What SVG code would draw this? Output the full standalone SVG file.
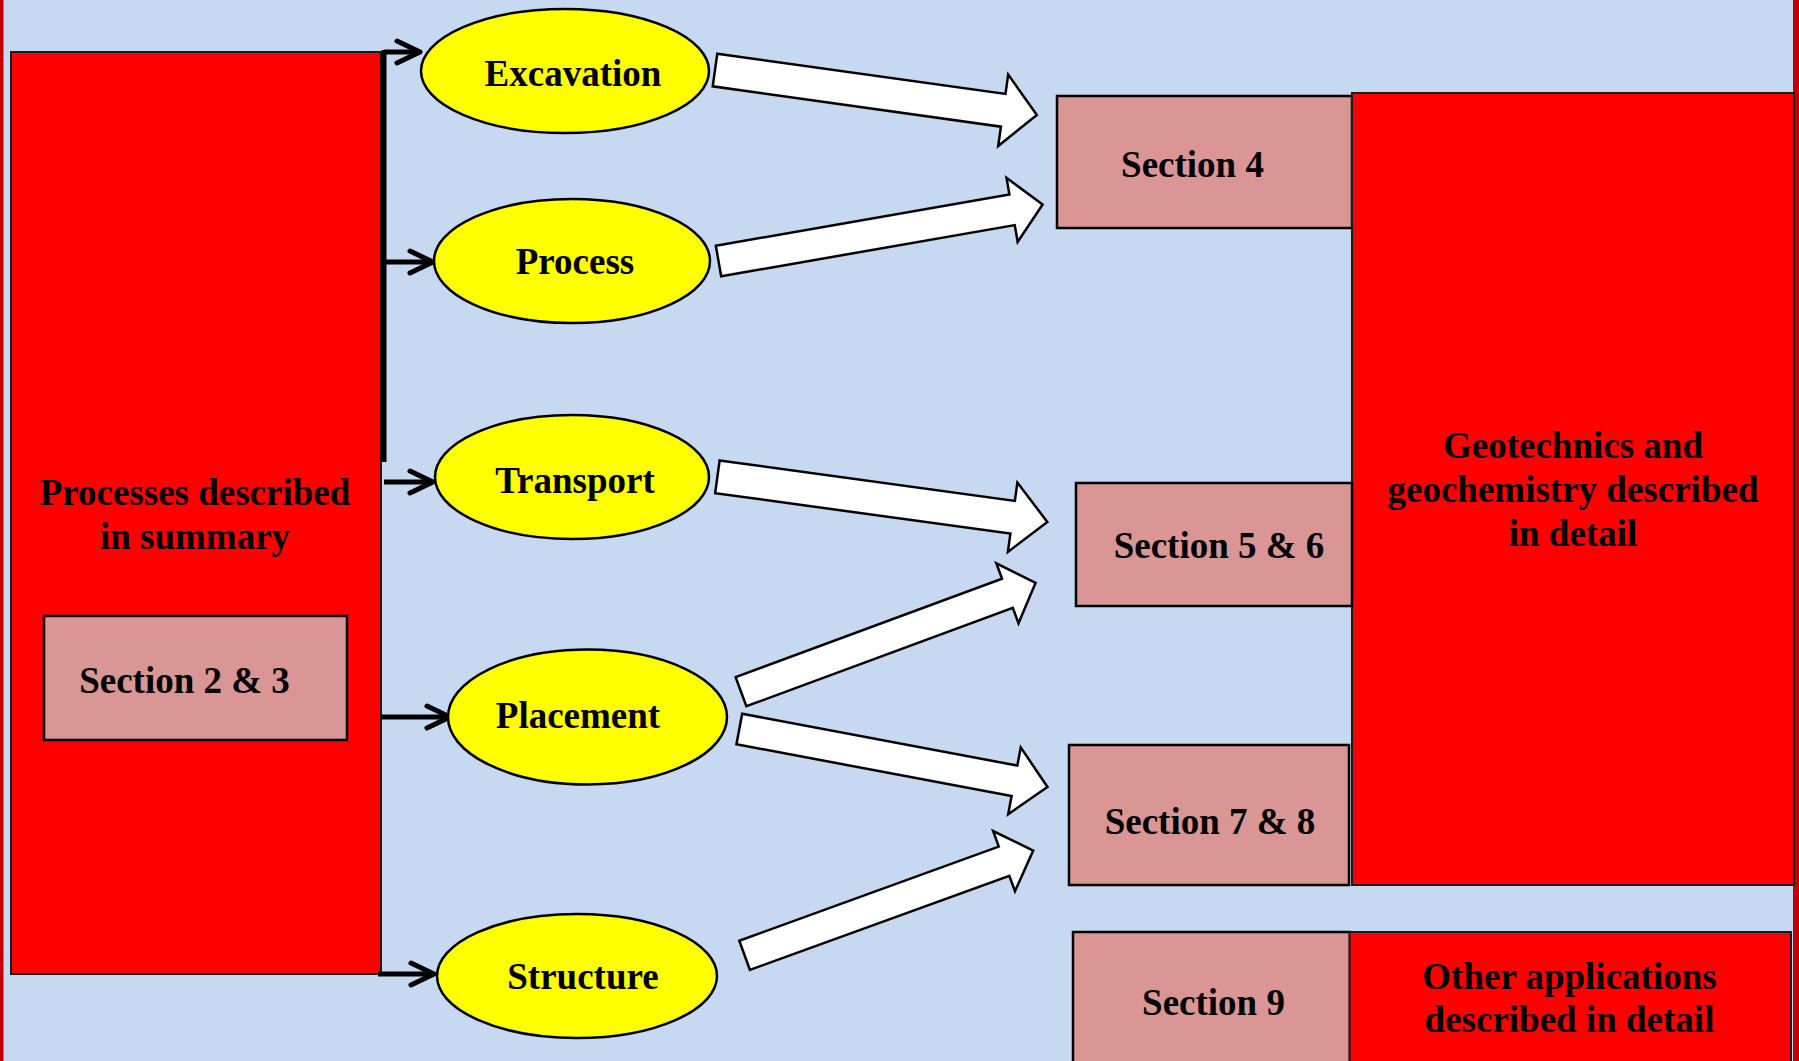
<svg xmlns="http://www.w3.org/2000/svg" width="1799" height="1061" viewBox="0 0 1799 1061">
<defs>
<style>
.bg{fill:#C6D9F1}
.red{fill:#FF0000;stroke:#1a1a1a;stroke-width:2}
.sec{fill:#D99694;stroke:#000;stroke-width:2.5}
.ell{fill:#FFFF00;stroke:#000;stroke-width:2.5}
.blk{fill:#FFFFFF;stroke:#000;stroke-width:2.5;stroke-linejoin:miter}
.con{stroke:#000;stroke-width:5;fill:none}
text{font-family:"Liberation Serif","Times New Roman",serif;font-weight:bold;font-size:37px;fill:#000;text-anchor:middle}
</style>
<marker id="chev" markerUnits="userSpaceOnUse" markerWidth="34" markerHeight="34" viewBox="-30 -17 34 34" refX="0" refY="0" orient="auto" overflow="visible">
<path d="M-23,-11 L0,0 L-23,11" fill="none" stroke="#000" stroke-width="5" stroke-linecap="round" stroke-linejoin="round"/>
</marker>
</defs>
<rect class="bg" x="0" y="0" width="1799" height="1061"/>
<rect x="0" y="0" width="3.5" height="1061" fill="#C00000"/>
<rect x="1793" y="0" width="6" height="1061" fill="#C00000"/>

<g id="summary">
<rect class="red" x="11" y="52" width="370" height="922"/>
<text x="195" y="505">Processes described</text>
<text x="195" y="549">in summary</text>
</g>
<g id="section23">
<rect class="sec" x="44" y="616" width="303" height="124"/>
<text x="184.5" y="693">Section 2 &amp; 3</text>
</g>

<g id="connectors">
<line class="con" x1="384" y1="50" x2="384" y2="462"/>
<line class="con" x1="384" y1="52" x2="420" y2="52" marker-end="url(#chev)"/>
<line class="con" x1="384" y1="262" x2="433" y2="262" marker-end="url(#chev)"/>
<line class="con" x1="384" y1="482" x2="433" y2="482" marker-end="url(#chev)"/>
<line class="con" x1="381" y1="717" x2="450" y2="717" marker-end="url(#chev)"/>
<line class="con" x1="378" y1="974" x2="434" y2="974" marker-end="url(#chev)"/>
<g transform="translate(715,70) rotate(7.96)"><polygon class="blk" points="0,-16.5 291,-16.5 291,-36 325,0 291,36 291,16.5 0,16.5"/></g>
<g transform="translate(718.5,261) rotate(-9.88)"><polygon class="blk" points="0,-15.5 298,-15.5 298,-32.5 329,0 298,32.5 298,15.5 0,15.5"/></g>
<g transform="translate(717.4,476.8) rotate(7.8)"><polygon class="blk" points="0,-16.5 298,-16.5 298,-35 333,0 298,35 298,16.5 0,16.5"/></g>
<g transform="translate(741,691.7) rotate(-20.27)"><polygon class="blk" points="0,-15.5 284,-15.5 284,-32 314,0 284,32 284,15.5 0,15.5"/></g>
<g transform="translate(739.3,729) rotate(10.66)"><polygon class="blk" points="0,-15.5 280,-15.5 280,-34 313.6,0 280,34 280,15.5 0,15.5"/></g>
<g transform="translate(744.6,955.3) rotate(-19.94)"><polygon class="blk" points="0,-15.5 276,-15.5 276,-32 307,0 276,32 276,15.5 0,15.5"/></g>
</g>

<g id="excavation">
<ellipse class="ell" cx="565" cy="71" rx="144" ry="62"/>
<text x="573" y="86">Excavation</text>
</g>
<g id="process">
<ellipse class="ell" cx="572" cy="261" rx="138" ry="62"/>
<text x="575" y="274">Process</text>
</g>
<g id="transport">
<ellipse class="ell" cx="572" cy="477" rx="137" ry="62"/>
<text x="575" y="493">Transport</text>
</g>
<g id="placement">
<ellipse class="ell" cx="587.5" cy="717" rx="139.5" ry="67.5"/>
<text x="578" y="728">Placement</text>
</g>
<g id="structure">
<ellipse class="ell" cx="577" cy="976" rx="140" ry="62"/>
<text x="583" y="989">Structure</text>
</g>

<g id="section4">
<rect class="sec" x="1057" y="96" width="295" height="132"/>
<text x="1192.5" y="177">Section 4</text>
</g>
<g id="geotech">
<rect class="red" x="1352" y="93" width="442" height="792"/>
<text x="1573" y="458">Geotechnics and</text>
<text x="1573" y="502">geochemistry described</text>
<text x="1573" y="546">in detail</text>
</g>
<g id="section56">
<rect class="sec" x="1076" y="483" width="276" height="123"/>
<text x="1219" y="558">Section 5 &amp; 6</text>
</g>
<g id="section78">
<rect class="sec" x="1069" y="745" width="280" height="140"/>
<text x="1210" y="834">Section 7 &amp; 8</text>
</g>
<g id="section9">
<rect class="sec" x="1073" y="932" width="277" height="140"/>
<text x="1213.5" y="1015">Section 9</text>
</g>
<g id="other">
<rect class="red" x="1349.5" y="932" width="441.5" height="140"/>
<text x="1569.5" y="989">Other applications</text>
<text x="1569.5" y="1032">described in detail</text>
</g>
</svg>
